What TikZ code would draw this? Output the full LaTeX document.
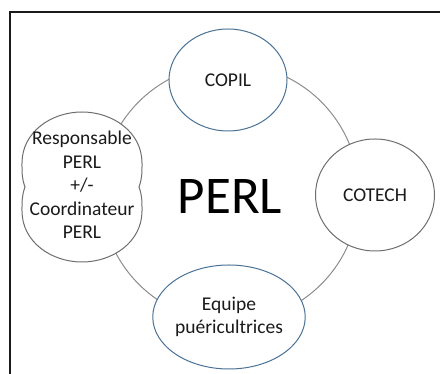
\documentclass[tikz,border=0pt]{standalone}
\usepackage{fontspec}
\setmainfont{Carlito}
\usepackage{tikz}
\usetikzlibrary{shapes.geometric}
\definecolor{perlblue}{HTML}{4A7296}
\definecolor{perlgrey}{HTML}{8C8C8C}
\definecolor{perldark}{HTML}{6E6E6E}
\definecolor{perltext}{HTML}{1A1A1A}

\begin{document}
\begin{tikzpicture}[
        x=1pt, y=1pt,
        ring/.style={draw=perlgrey, line width=1pt},
        bubble/.style={ellipse, draw, fill=white, line width=1pt, inner sep=0pt, align=center, text=perltext, font=\fontsize{19.5}{23.5}\selectfont},
        frameline/.style={draw=perltext, line width=2pt}
    ]
        \useasboundingbox (0,0) rectangle (440,374);
        \draw [frameline] (9.5,0) |- (441,362);

        \coordinate (hub) at (230,181);
        \draw [ring] (hub) circle [radius=129];

        % cloud round the left node
        \draw [draw=perldark, line width=1pt, fill=white, shift={(82,187)}]
            (0,75) to[out=180,in=90] (-60,24) to[out=-90,in=110] (-57,0)
            to[out=-110,in=90] (-60,-24) to[out=-90,in=180] (0,-75)
            to[out=0,in=-90] (60,-24) to[out=90,in=-70] (57,0)
            to[out=70,in=-90] (60,24) to[out=90,in=0] cycle;

        \node (perl) at (230,177) [text=black, font=\fontsize{53}{63}\selectfont] {PERL};
        \node (copil) at (228,294) [bubble, draw=perlblue, minimum width=118pt, minimum height=102pt] {COPIL};
        \node (cotech) at (375,179) [bubble, draw=perldark, minimum width=119pt, minimum height=112pt] {COTECH};
        \node (equipe) at (229,57) [bubble, draw=perlblue, minimum width=117pt, minimum height=104pt] {Equipe\\puéricultrices};
        \node (resp) at (82,189) [align=center, text=perltext, font=\fontsize{19.5}{23.5}\selectfont] {Responsable\\PERL\\+/-\\Coordinateur\\PERL};
    \end{tikzpicture}
\end{document}
